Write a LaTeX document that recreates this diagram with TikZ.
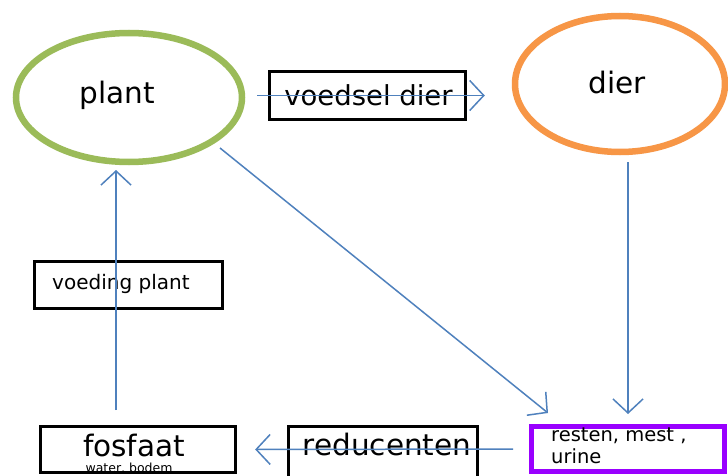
\documentclass[tikz,border=0pt]{standalone}
\usepackage{fontspec}
\setmainfont{DejaVu Sans}
\usetikzlibrary{shapes.geometric,arrows.meta}
\definecolor{plantgreen}{RGB}{155,187,89}
\definecolor{dierorange}{RGB}{247,150,70}
\definecolor{arrowblue}{RGB}{79,129,189}
\definecolor{restpurple}{RGB}{153,0,255}
\tikzset{
  oval/.style={ellipse, draw, line width=6.5pt, inner sep=0pt},
  blackbox/.style={rectangle, draw=black, line width=3.3pt, inner sep=0pt},
  purplebox/.style={rectangle, draw=restpurple, line width=5pt, inner sep=0pt},
  arr/.style={draw=arrowblue, line width=1.5pt, -{Straight Barb[length=14pt,width=30pt,line width=1.5pt]}},
  big/.style={font=\fontsize{29.5}{32}\selectfont, inner sep=0pt},
  mid/.style={font=\fontsize{20}{23}\selectfont, inner sep=0pt},
  tiny/.style={font=\fontsize{12.5}{14}\selectfont, inner sep=0pt},
}
\begin{document}
\begin{tikzpicture}[x=1pt,y=-1pt]
\useasboundingbox[fill=white] (0,0) rectangle (728,476);
% ovals
\node[oval, draw=plantgreen, minimum width=226pt, minimum height=129pt] (plant) at (129,97.5) {};
\node[big] (plantlbl) at (117,95) {plant};
\node[oval, draw=dierorange, minimum width=210pt, minimum height=136pt] (dier) at (620,84) {};
\node[big] (dierlbl) at (617,83) {dier};
% boxes
\node[blackbox, minimum width=196pt, minimum height=48pt] (vd) at (367.5,95.5) {};
\node[font=\fontsize{27.5}{30}\selectfont, inner sep=0pt] (vdlbl) at (368.5,95) {voedsel dier};
\node[blackbox, minimum width=188pt, minimum height=47pt] (vp) at (128.5,285) {};
\node[mid, anchor=west] (vplbl) at (52,284) {voeding plant};
\node[blackbox, minimum width=195pt, minimum height=46pt] (fosfaat) at (138,449.5) {};
\node[big] (fosfaatlbl) at (134,445) {fosfaat};
\node[tiny] (waterlbl) at (129,468) {water, bodem};
\node[blackbox, minimum width=189pt, minimum height=70pt] (reduc) at (383,461.5) {};
\node[big] (reduclbl) at (387,444) {reducenten};
\node[purplebox, minimum width=193pt, minimum height=45pt] (resten) at (628,449) {};
\node[anchor=north west, align=left, inner sep=0pt, font=\fontsize{19.5}{22}\selectfont] (restenlbl) at (551,428) {resten, mest ,\\urine};
% free ends of connectors
\coordinate (diagA) at (220,148);
\coordinate (diagB) at (548,413);
\coordinate (downA) at (628,162);
\coordinate (downB) at (628,414);
\coordinate (upA) at (116,410);
\coordinate (upB) at (116,170);
% connectors
\draw[arr, shorten <=12pt, shorten >=27pt] (plant.east |- vd.center) -- (dier.west |- vd.center);
\draw[arr] (diagA) -- (diagB);
\draw[arr] (downA) -- (downB);
\draw[arr, shorten <=16pt, shorten >=18pt] (resten.west) -- (fosfaat.east);
\draw[arr] (upA) -- (upB);
\end{tikzpicture}
\end{document}
